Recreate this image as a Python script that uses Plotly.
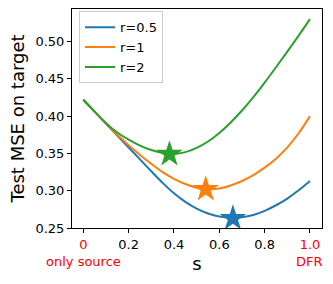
import plotly.graph_objects as go

s_vals = [0.0, 0.05, 0.1, 0.15, 0.2, 0.25, 0.3, 0.35, 0.4, 0.45, 0.5,
          0.55, 0.6, 0.65, 0.7, 0.75, 0.8, 0.85, 0.9, 0.95, 1.0]
mse_r05 = [0.422, 0.406, 0.390, 0.374, 0.358, 0.342, 0.326, 0.3105, 0.2965, 0.285, 0.276,
           0.2695, 0.2655, 0.264, 0.2645, 0.2675, 0.273, 0.2805, 0.2895, 0.3005, 0.313]
mse_r1 = [0.422, 0.406, 0.390, 0.375, 0.361, 0.348, 0.336, 0.325, 0.316, 0.309, 0.304,
          0.302, 0.303, 0.307, 0.313, 0.321, 0.331, 0.343, 0.358, 0.377, 0.400]
mse_r2 = [0.422, 0.406, 0.3905, 0.378, 0.3685, 0.3605, 0.3545, 0.3505, 0.3492, 0.3517, 0.3575,
          0.366, 0.3775, 0.3915, 0.4075, 0.4255, 0.445, 0.4655, 0.4865, 0.508, 0.530]
series_names = ["r=0.5", "r=1", "r=2"]
series_vals = [mse_r05, mse_r1, mse_r2]
best_s = [0.66, 0.54, 0.38]
best_mse = [0.263, 0.302, 0.349]
colors = ["#1f77b4", "#ff7f0e", "#2ca02c"]

x_tickvals = [0, 0.2, 0.4, 0.6, 0.8, 1.0]
x_ticktext = ["<span style='color:red'>0</span>", "0.2", "0.4", "0.6", "0.8",
              "<span style='color:red'>1.0</span>"]
y_tickvals = [0.25, 0.30, 0.35, 0.40, 0.45, 0.50]
y_ticktext = ["0.25", "0.30", "0.35", "0.40", "0.45", "0.50"]

fig = go.Figure()
for name, vals, c in zip(series_names, series_vals, colors):
    fig.add_trace(go.Scatter(x=s_vals, y=vals, mode="lines", name=name,
                             line=dict(color=c, width=2, shape="spline", smoothing=1.0)))
for bs, bm, c in zip(best_s, best_mse, colors):
    fig.add_trace(go.Scatter(x=[bs], y=[bm], mode="markers", showlegend=False,
                             marker=dict(symbol="star", size=20, color=c,
                                         line=dict(width=0))))

font_family = "DejaVu Sans"
fig.update_layout(
    width=333, height=284,
    margin=dict(l=72, r=11, t=9, b=56),
    paper_bgcolor="white", plot_bgcolor="white",
    font=dict(family=font_family, size=13, color="black"),
    showlegend=True,
    legend=dict(x=0.028, y=0.99, xanchor="left", yanchor="top",
                bgcolor="rgba(255,255,255,0.8)", bordercolor="#cccccc", borderwidth=1,
                font=dict(size=13), itemwidth=30, tracegroupgap=0),
    xaxis=dict(range=[-0.05, 1.053], tickvals=x_tickvals, ticktext=x_ticktext,
               showgrid=False, zeroline=False, showline=True, linecolor="black",
               linewidth=1, mirror=True, ticks="outside", ticklen=4, tickcolor="black",
               automargin=False,
               title=dict(text="s", font=dict(size=18), standoff=6)),
    yaxis=dict(range=[0.25, 0.5436], tickvals=y_tickvals, ticktext=y_ticktext,
               showgrid=False, zeroline=False, showline=True, linecolor="black",
               linewidth=1, mirror=True, ticks="outside", ticklen=4, tickcolor="black",
               automargin=False,
               title=dict(text="Test MSE on target", font=dict(size=18), standoff=6)),
)
fig.add_annotation(x=0, y=-0.155, xref="x", yref="paper", text="only source",
                   showarrow=False, font=dict(color="red", size=13), xanchor="center",
                   yanchor="middle")
fig.add_annotation(x=1.0, y=-0.155, xref="x", yref="paper", text="DFR",
                   showarrow=False, font=dict(color="red", size=13), xanchor="center",
                   yanchor="middle")
fig.write_html("out.html", config={"displayModeBar": False},
               post_script="document.body.style.margin='0';")
